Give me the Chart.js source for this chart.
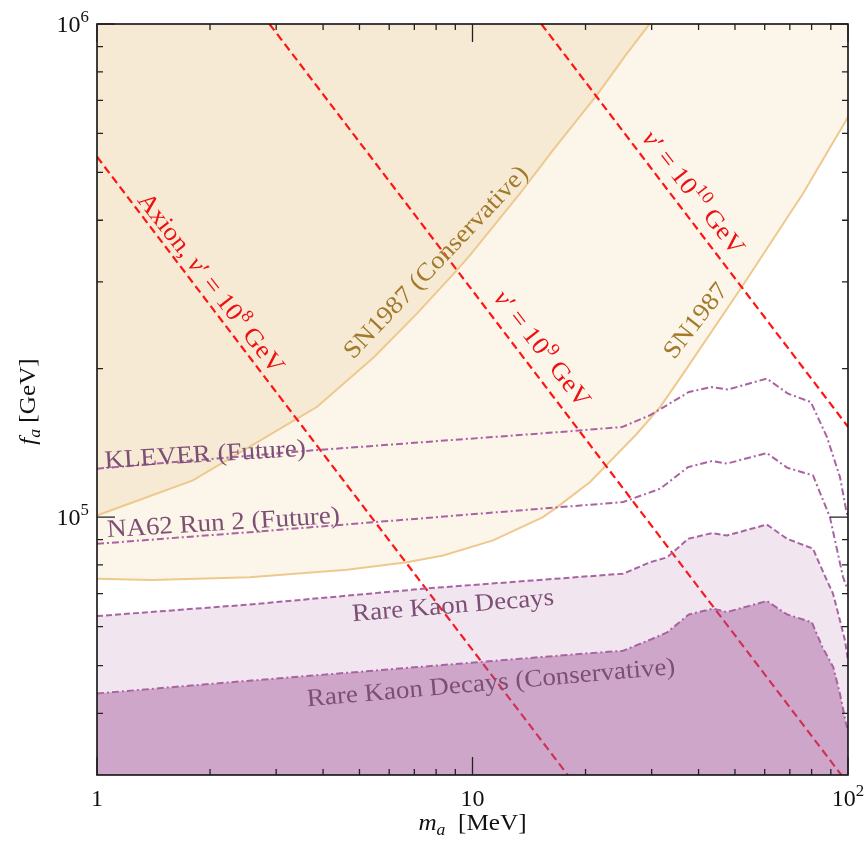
<!DOCTYPE html>
<html>
<head>
<meta charset="utf-8">
<script src="https://cdn.jsdelivr.net/npm/chart.js@4.4.1/dist/chart.umd.min.js"></script>
<style>
  html, body { margin: 0; padding: 0; background: #ffffff; }
  canvas { display: block; }
</style>
</head>
<body>
<canvas id="chart" width="865" height="854"></canvas>
<script>
// Axion mass m_a in MeV, decay constant f_a in GeV.

// SN1987 cooling bound (excluded above the curve)
const sn1987Mass = [1, 1.4, 2.55, 4.63, 6.69, 8.35, 11.34, 15.41, 16.8, 20.56, 27.4, 31.6, 36.4, 52.5, 75.9, 100];
const sn1987Fa   = [7.50e4, 7.46e4, 7.55e4, 7.82e4, 8.10e4, 8.36e4, 8.97e4, 1.0e5, 1.048e5, 1.178e5, 1.476e5, 1.672e5, 1.955e5, 2.953e5, 4.53e5, 6.48e5];

// SN1987 conservative bound
const snConsMass = [1, 1.80, 3.41, 3.85, 5.47, 7.11, 9.09, 9.85, 13.38, 16.38, 21.46, 25.79, 29.7];
const snConsFa   = [1.008e5, 1.187e5, 1.584e5, 1.672e5, 2.112e5, 2.587e5, 3.168e5, 3.398e5, 4.532e5, 5.55e5, 7.18e5, 8.72e5, 1.003e6];

// Rare kaon decays (excluded below the curve)
const kaonMass = [1, 2.55, 7.57, 25.2, 29.7, 33.0, 37.5, 43.4, 47.6, 60.8, 68.8, 80.7, 83.2, 87.9, 91.2, 95.2, 98.2, 100];
const kaonFa   = [6.30e4, 6.65e4, 7.17e4, 7.68e4, 8.10e4, 8.29e4, 9.04e4, 9.28e4, 9.18e4, 9.66e4, 9.04e4, 8.63e4, 8.17e4, 7.44e4, 7.0e4, 6.17e4, 5.62e4, 5.12e4];

// Rare kaon decays, conservative
const kaonConsMass = [1, 2.55, 19.3, 25.2, 29.7, 33.0, 37.7, 43.7, 47.6, 60.8, 68.8, 80.1, 85.5, 91.4, 95.2, 98.8, 100];
const kaonConsFa   = [4.39e4, 4.66e4, 5.28e4, 5.36e4, 5.64e4, 5.84e4, 6.35e4, 6.52e4, 6.42e4, 6.76e4, 6.35e4, 6.12e4, 5.45e4, 4.96e4, 4.38e4, 3.81e4, 3.69e4];

// KLEVER projected reach
const kleverMass = [1, 3.76, 17.1, 25.0, 29.7, 37.7, 43.4, 47.8, 60.8, 69.2, 79.6, 87.9, 95.2, 98.9, 100];
const kleverFa   = [1.254e5, 1.366e5, 1.488e5, 1.523e5, 1.609e5, 1.794e5, 1.836e5, 1.814e5, 1.910e5, 1.780e5, 1.712e5, 1.453e5, 1.206e5, 1.032e5, 1.0e5];

// NA62 Run 2 projected reach
const na62Mass = [1, 2.55, 25.2, 31.6, 37.5, 43.4, 47.6, 60.8, 68.8, 80.7, 89.5, 97.0, 100];
const na62Fa   = [8.83e4, 9.32e4, 1.073e5, 1.142e5, 1.263e5, 1.299e5, 1.284e5, 1.349e5, 1.260e5, 1.215e5, 1.0e5, 7.56e4, 7.1e4];

// Axion lines for fixed v' (end points where they leave the frame)
const vev8Mass  = [1, 17.93];
const vev8Fa    = [5.38e5, 3.0e4];
const vev9Mass  = [2.88, 96.0];
const vev9Fa    = [1.0e6, 3.0e4];
const vev10Mass = [15.25, 100];
const vev10Fa   = [1.0e6, 1.525e5];
const vevExponents = ['8', '9', '10'];

// Region names
const regionNames = ['SN1987 (Conservative)', 'SN1987', 'KLEVER (Future)', 'NA62 Run 2 (Future)', 'Rare Kaon Decays', 'Rare Kaon Decays (Conservative)'];

// Axis ticks
const xRange = [1, 100];
const yRange = [3e4, 1e6];
const xTickValues = [1, 10, 100];
const xTickLabels = [['1', ''], ['10', ''], ['10', '2']];
const yTickValues = [1e5, 1e6];
const yTickLabels = [['10', '5'], ['10', '6']];
const xMinorTicks = [2, 3, 4, 5, 6, 7, 8, 9, 20, 30, 40, 50, 60, 70, 80, 90];
const yMinorTicks = [4e4, 5e4, 6e4, 7e4, 8e4, 9e4, 2e5, 3e5, 4e5, 5e5, 6e5, 7e5, 8e5, 9e5];

const pts = (xs, ys) => xs.map((x, i) => ({ x: x, y: ys[i] }));

const SERIF = '"Liberation Serif", "DejaVu Serif", serif';
const SN_LINE = '#EEC98E';
const RED = '#FF1414';
const PURPLE = '#A963A3';

// Draw a run of text pieces (italic / superscript / subscript) centred on (x, y)
function drawRich(ctx, segs, x, y, angleDeg, size, color, stretch, align) {
  ctx.save();
  ctx.translate(x, y);
  ctx.rotate(angleDeg * Math.PI / 180);
  ctx.scale(stretch || 1, 1);
  ctx.fillStyle = color;
  ctx.textBaseline = 'alphabetic';
  ctx.textAlign = 'left';
  let total = 0;
  const parts = segs.map(s => {
    const fs = (s.sup || s.sub) ? size * 0.7 : size;
    const font = (s.it ? 'italic ' : '') + fs + 'px ' + SERIF;
    ctx.font = font;
    const w = ctx.measureText(s.t).width;
    total += w;
    return { t: s.t, font: font, w: w, dy: s.sup ? -size * 0.42 : (s.sub ? size * 0.22 : 0) };
  });
  let cx = align === 'right' ? -total : -total / 2;
  const baseY = size * 0.34;
  parts.forEach(p => {
    ctx.font = p.font;
    ctx.fillText(p.t, cx, baseY + p.dy);
    cx += p.w;
  });
  ctx.restore();
}

const vevLabel = (exp, prefix) => {
  const segs = [];
  if (prefix) segs.push({ t: prefix });
  segs.push({ t: 'v', it: true }, { t: '\u2032 = 10' }, { t: exp, sup: true }, { t: ' GeV' });
  return segs;
};

// Text labels, anchored in data coordinates
const annotations = [
  { segs: vevLabel(vevExponents[0], 'Axion, '), x: 2.02, y: 2.99e5, angle: 52, color: '#EE1111' },
  { segs: vevLabel(vevExponents[1]), x: 15.4, y: 2.20e5, angle: 52, color: '#EE1111' },
  { segs: vevLabel(vevExponents[2]), x: 38.9, y: 4.56e5, angle: 52, color: '#EE1111' },
  { segs: [{ t: regionNames[0] }], x: 7.95, y: 3.30e5, angle: -46.5, color: '#A27A2C' },
  { segs: [{ t: regionNames[1] }], x: 39.1, y: 2.51e5, angle: -52, color: '#A27A2C' },
  { segs: [{ t: regionNames[2] }], x: 1.94, y: 1.347e5, angle: -3.5, color: '#7D4F75' },
  { segs: [{ t: regionNames[3] }], x: 2.17, y: 9.80e4, angle: -3.5, color: '#7D4F75' },
  { segs: [{ t: regionNames[4] }], x: 8.87, y: 6.65e4, angle: -4.7, color: '#7D4F75' },
  { segs: [{ t: regionNames[5] }], x: 11.2, y: 4.64e4, angle: -5, color: '#7D4F75' }
];

const framePlugin = {
  id: 'frameAndLabels',
  afterDatasetsDraw(chart) {
    const ctx = chart.ctx;
    const a = chart.chartArea;
    const xs = chart.scales.x, ys = chart.scales.y;

    // in-plot labels
    annotations.forEach(an => {
      drawRich(ctx, an.segs, xs.getPixelForValue(an.x), ys.getPixelForValue(an.y), an.angle, 25, an.color, 1.08);
    });

    // frame
    ctx.save();
    ctx.strokeStyle = '#111';
    ctx.lineWidth = 1.6;
    ctx.strokeRect(a.left, a.top, a.right - a.left, a.bottom - a.top);

    // ticks pointing inward on all four sides
    ctx.lineWidth = 1.3;
    ctx.strokeStyle = '#222';
    const tickX = (v, len) => {
      const px = xs.getPixelForValue(v);
      ctx.beginPath();
      ctx.moveTo(px, a.bottom); ctx.lineTo(px, a.bottom - len);
      ctx.moveTo(px, a.top); ctx.lineTo(px, a.top + len);
      ctx.stroke();
    };
    const tickY = (v, len) => {
      const py = ys.getPixelForValue(v);
      ctx.beginPath();
      ctx.moveTo(a.left, py); ctx.lineTo(a.left + len, py);
      ctx.moveTo(a.right, py); ctx.lineTo(a.right - len, py);
      ctx.stroke();
    };
    xMinorTicks.forEach(v => tickX(v, 6));
    xTickValues.forEach(v => tickX(v, 18));
    yMinorTicks.forEach(v => tickY(v, 6));
    yTickValues.forEach(v => tickY(v, 18));
    ctx.restore();

    // tick labels
    xTickValues.forEach((v, i) => {
      const segs = [{ t: xTickLabels[i][0] }];
      if (xTickLabels[i][1]) segs.push({ t: xTickLabels[i][1], sup: true });
      drawRich(ctx, segs, xs.getPixelForValue(v), a.bottom + 23, 0, 24, '#111', 1);
    });
    yTickValues.forEach((v, i) => {
      const segs = [{ t: yTickLabels[i][0] }, { t: yTickLabels[i][1], sup: true }];
      drawRich(ctx, segs, a.left - 8, ys.getPixelForValue(v), 0, 24, '#111', 1, 'right');
    });

    // axis titles
    drawRich(ctx, [{ t: 'm', it: true }, { t: 'a', it: true, sub: true }, { t: '  [MeV]' }],
      (a.left + a.right) / 2, a.bottom + 47, 0, 24, '#111', 1.05);
    drawRich(ctx, [{ t: 'f', it: true }, { t: 'a', it: true, sub: true }, { t: ' [GeV]' }],
      27, (a.top + a.bottom) / 2 + 2, -90, 24, '#111', 1.05);
  }
};

const base = { pointRadius: 0, tension: 0, clip: 0 };

new Chart(document.getElementById('chart').getContext('2d'), {
  type: 'line',
  data: {
    datasets: [
      Object.assign({ label: regionNames[1], data: pts(sn1987Mass, sn1987Fa), fill: 'end',
        backgroundColor: '#FCF5EA', borderColor: SN_LINE, borderWidth: 2, order: 10 }, base),
      Object.assign({ label: regionNames[0], data: pts(snConsMass, snConsFa), fill: 'end',
        backgroundColor: '#F6EAD5', borderColor: SN_LINE, borderWidth: 2, order: 9 }, base),
      Object.assign({ label: 'v8', data: pts(vev8Mass, vev8Fa), fill: false,
        borderColor: RED, borderWidth: 2.2, borderDash: [8, 4.5], order: 8 }, base),
      Object.assign({ label: 'v9', data: pts(vev9Mass, vev9Fa), fill: false,
        borderColor: RED, borderWidth: 2.2, borderDash: [8, 4.5], order: 8 }, base),
      Object.assign({ label: 'v10', data: pts(vev10Mass, vev10Fa), fill: false,
        borderColor: RED, borderWidth: 2.2, borderDash: [8, 4.5], order: 8 }, base),
      Object.assign({ label: regionNames[4], data: pts(kaonMass, kaonFa), fill: 'start',
        backgroundColor: 'rgba(160,80,150,0.15)', borderColor: PURPLE, borderWidth: 2, borderDash: [6, 3], order: 7 }, base),
      Object.assign({ label: regionNames[5], data: pts(kaonConsMass, kaonConsFa), fill: 'start',
        backgroundColor: 'rgba(160,80,150,0.42)', borderColor: PURPLE, borderWidth: 2, borderDash: [7, 3, 2, 3], order: 6 }, base),
      Object.assign({ label: regionNames[2], data: pts(kleverMass, kleverFa), fill: false,
        borderColor: PURPLE, borderWidth: 2, borderDash: [7, 3, 2, 3], order: 5 }, base),
      Object.assign({ label: regionNames[3], data: pts(na62Mass, na62Fa), fill: false,
        borderColor: PURPLE, borderWidth: 2, borderDash: [7, 3, 2, 3], order: 4 }, base)
    ]
  },
  options: {
    responsive: false,
    animation: false,
    devicePixelRatio: 1,
    layout: { padding: { left: 97, right: 17, top: 24, bottom: 79 } },
    scales: {
      x: { type: 'logarithmic', min: xRange[0], max: xRange[1], display: false },
      y: { type: 'logarithmic', min: yRange[0], max: yRange[1], display: false }
    },
    plugins: { legend: { display: false }, tooltip: { enabled: false } },
    elements: { point: { radius: 0 } }
  },
  plugins: [framePlugin]
});
</script>
</body>
</html>
